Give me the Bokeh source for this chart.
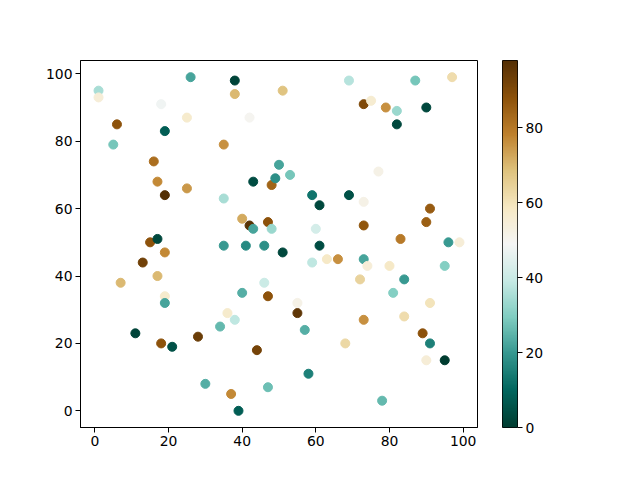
import numpy as np
from bokeh.plotting import figure
from bokeh.layouts import row
from bokeh.models import (ColumnDataSource, LinearColorMapper, FixedTicker, Range1d)
from bokeh.embed import file_html
from bokeh.resources import INLINE

# ---- data ----
xs = [1, 1, 5, 6, 7, 11, 13, 15, 16, 17, 17, 17, 18, 18, 19, 19, 19, 19, 19, 21,
      25, 25, 26, 28, 30, 34, 35, 35, 35, 36, 37, 38, 38, 38, 39, 40, 40, 41, 42, 42,
      43, 43, 44, 46, 46, 47, 47, 47, 48, 48, 49, 50, 51, 51, 53, 55, 55, 57, 58, 59,
      59, 60, 61, 61, 63, 66, 68, 69, 69, 72, 73, 73, 73, 73, 73, 74, 75, 77, 78, 79,
      80, 81, 82, 82, 83, 84, 84, 87, 89, 90, 90, 90, 91, 91, 91, 95, 95, 96, 97, 99]
ys = [95, 93, 79, 85, 38, 23, 44, 50, 74, 68, 51, 40, 91, 20, 83, 64, 47, 34, 32, 19,
      87, 66, 99, 22, 8, 25, 79, 63, 49, 29, 5, 98, 94, 27, 0, 57, 35, 49, 87, 55,
      54, 68, 18, 49, 38, 56, 34, 7, 67, 54, 69, 73, 95, 47, 70, 32, 29, 24, 11, 64,
      44, 54, 61, 49, 45, 45, 20, 98, 64, 39, 91, 62, 55, 45, 27, 43, 92, 71, 3, 90,
      43, 35, 89, 85, 51, 39, 28, 98, 23, 90, 56, 15, 60, 32, 20, 43, 15, 50, 99, 50]
cs = [35, 55, 28, 88, 70, 2, 93, 88, 82, 77, 3, 70, 48, 88, 8, 98, 77, 57, 22, 5,
      57, 75, 22, 94, 24, 26, 76, 35, 20, 57, 77, 2, 70, 38, 8, 72, 24, 17, 50, 97,
      22, 4, 92, 18, 40, 88, 88, 27, 84, 33, 18, 22, 68, 3, 28, 52, 96, 24, 15, 13,
      38, 42, 3, 4, 58, 76, 63, 37, 5, 64, 90, 52, 87, 22, 76, 55, 56, 52, 26, 76,
      58, 30, 33, 3, 80, 20, 62, 28, 88, 3, 85, 55, 86, 60, 15, 30, 0, 20, 62, 55]
cbar_ticks = [0, 20, 40, 60, 80]
axis_ticks = [0, 20, 40, 60, 80, 100]

# BrBG reversed palette (interpolated from ColorBrewer anchors)
anchors = ['#003c30', '#01665e', '#35978f', '#80cdc1', '#c7eae5', '#f5f5f5',
           '#f6e8c3', '#dfc27d', '#bf812d', '#8c510a', '#543005']
def hex2rgb(h):
    return [int(h[i:i + 2], 16) for i in (1, 3, 5)]
arr = np.array([hex2rgb(h) for h in anchors], dtype=float)
pos = np.linspace(0, 1, len(anchors))
t = np.linspace(0, 1, 256)
palette = ['#%02x%02x%02x' % tuple(int(round(np.interp(tt, pos, arr[:, k]))) for k in range(3))
           for tt in t]

def padded(vals, frac=0.05):
    lo, hi = min(vals), max(vals)
    m = (hi - lo) * frac
    return Range1d(lo - m, hi + m)

FONT = "DejaVu Sans"
FSIZE = "13.9px"

def style_axis(ax):
    ax.major_label_text_font = FONT
    ax.major_label_text_font_size = FSIZE
    ax.major_label_text_color = "black"
    ax.axis_line_color = "black"
    ax.major_tick_line_color = "black"
    ax.major_tick_out = 5
    ax.major_tick_in = 0
    ax.minor_tick_line_color = None
    ax.major_label_standoff = 3

p = figure(output_backend="svg", toolbar_location=None,
           frame_width=397, frame_height=367,
           x_range=padded(xs), y_range=padded(ys),
           min_border_left=80, min_border_top=60, min_border_bottom=45,
           min_border_right=25)
p.background_fill_color = "white"
p.border_fill_color = "white"
p.outline_line_color = "black"
p.outline_line_width = 1
p.grid.visible = False

mapper = LinearColorMapper(palette=palette, low=min(cs), high=max(cs))
src = ColumnDataSource(dict(x=xs, y=ys, c=cs))
p.scatter('x', 'y', source=src, size=9,
          fill_color={'field': 'c', 'transform': mapper},
          line_color={'field': 'c', 'transform': mapper}, line_width=1)

style_axis(p.xaxis)
style_axis(p.yaxis)
p.xaxis.ticker = FixedTicker(ticks=axis_ticks)
p.yaxis.ticker = FixedTicker(ticks=axis_ticks)

# ---- colour bar as its own narrow figure ----
lo, hi = min(cs), max(cs)
cb = figure(output_backend="svg", toolbar_location=None,
            frame_width=15, frame_height=367,
            x_range=Range1d(0, 1), y_range=Range1d(lo, hi),
            y_axis_location="right",
            min_border_left=0, min_border_top=60, min_border_bottom=45,
            min_border_right=60)
grad = np.linspace(lo, hi, 256).reshape(256, 1)
cb.image(image=[grad], x=0, y=lo, dw=1, dh=hi - lo, color_mapper=mapper)
cb.xaxis.visible = False
cb.grid.visible = False
cb.outline_line_color = "black"
cb.outline_line_width = 1
cb.border_fill_color = "white"
style_axis(cb.yaxis)
cb.yaxis.axis_line_color = None
cb.yaxis.ticker = FixedTicker(ticks=cbar_ticks)

layout = row(p, cb)
open("out.html", "w").write(file_html(layout, INLINE))
